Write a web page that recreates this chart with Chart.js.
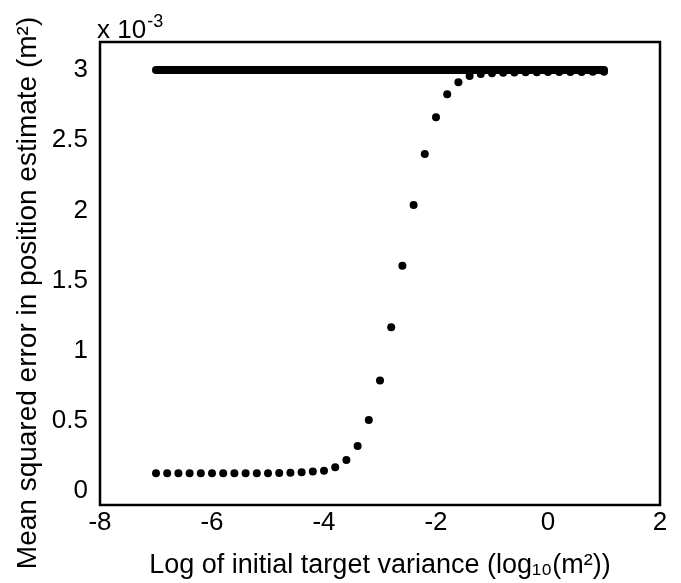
<!DOCTYPE html>
<html>
<head>
<meta charset="utf-8">
<script src="https://cdn.jsdelivr.net/npm/chart.js@4.4.1/dist/chart.umd.min.js"></script>
<style>
  html, body { margin: 0; padding: 0; background: #ffffff; }
  #wrap { width: 681px; height: 583px; }
</style>
</head>
<body>
<div id="wrap"><canvas id="c" width="681" height="583"></canvas></div>
<script>
// ---- data (y values in units of 10^-3 m^2) ----
const xValues = [-7, -6.8, -6.6, -6.4, -6.2, -6, -5.8, -5.6, -5.4, -5.2,
                 -5, -4.8, -4.6, -4.4, -4.2, -4, -3.8, -3.6, -3.4, -3.2,
                 -3, -2.8, -2.6, -2.4, -2.2, -2, -1.8, -1.6, -1.4, -1.2,
                 -1, -0.8, -0.6, -0.4, -0.2, 0, 0.2, 0.4, 0.6, 0.8, 1];
const mseValues = [0.126, 0.126, 0.126, 0.126, 0.126, 0.126, 0.126, 0.126, 0.126, 0.126,
                   0.127, 0.128, 0.13, 0.133, 0.138, 0.145, 0.169, 0.221, 0.321, 0.506,
                   0.788, 1.167, 1.606, 2.038, 2.402, 2.664, 2.827, 2.913, 2.958, 2.972,
                   2.977, 2.981, 2.983, 2.984, 2.985, 2.986, 2.986, 2.987, 2.987, 2.988, 2.988];
const refLineX = [-7, 1];
const refLineY = [3, 3];
const xTicks = [-8, -6, -4, -2, 0, 2];
const xTickLabels = ['-8', '-6', '-4', '-2', '0', '2'];
const yTicks = [0, 0.5, 1, 1.5, 2, 2.5, 3];
const yTickLabels = ['0', '0.5', '1', '1.5', '2', '2.5', '3'];
const xTitle = 'Log of initial target variance (log\u2081\u2080(m\u00B2))';
const yTitle = 'Mean squared error in position estimate (m\u00B2)';
const expBase = 'x 10';
const expPower = '-3';

const FONT = '"Liberation Sans", Arial, sans-serif';

const frameAndExponent = {
  id: 'frameAndExponent',
  afterDraw(chart) {
    const ctx = chart.ctx;
    const a = chart.chartArea;
    ctx.save();
    ctx.strokeStyle = '#000';
    ctx.lineWidth = 2.5;
    ctx.strokeRect(a.left, a.top, a.right - a.left, a.bottom - a.top);
    ctx.fillStyle = '#000';
    ctx.textBaseline = 'alphabetic';
    ctx.textAlign = 'left';
    ctx.font = '26px ' + FONT;
    ctx.fillText(expBase, a.left - 3, 38);
    const w = ctx.measureText(expBase).width;
    ctx.font = '18px ' + FONT;
    ctx.fillText(expPower, a.left - 3 + w + 1, 27);
    ctx.restore();
  }
};

new Chart(document.getElementById('c'), {
  type: 'scatter',
  data: {
    datasets: [
      {
        label: 'reference',
        data: refLineX.map((x, i) => ({ x: x, y: refLineY[i] })),
        showLine: true,
        borderColor: '#000',
        backgroundColor: '#000',
        borderWidth: 8,
        borderCapStyle: 'round',
        pointRadius: 0,
        order: 2
      },
      {
        label: 'mse',
        data: xValues.map((x, i) => ({ x: x, y: mseValues[i] })),
        showLine: false,
        pointRadius: 4,
        pointBackgroundColor: '#000',
        pointBorderWidth: 0,
        order: 1
      }
    ]
  },
  options: {
    responsive: false,
    animation: false,
    events: [],
    layout: { padding: { top: 42, right: 21, left: 0, bottom: 0 } },
    plugins: { legend: { display: false }, tooltip: { enabled: false }, title: { display: false } },
    scales: {
      x: {
        type: 'linear',
        min: -8, max: 2,
        grid: { display: false, drawTicks: false },
        border: { display: false },
        afterFit(scale) { scale.height = 78; },
        afterBuildTicks(scale) { scale.ticks = xTicks.map(v => ({ value: v })); },
        ticks: {
          padding: 2,
          color: '#000',
          font: { family: FONT, size: 26 },
          maxRotation: 0,
          autoSkip: false,
          callback(v) { const i = xTicks.indexOf(v); return i >= 0 ? xTickLabels[i] : ''; }
        },
        title: {
          display: true, text: xTitle, color: '#000',
          font: { family: FONT, size: 27 },
          padding: { top: 0, bottom: 1 }
        }
      },
      y: {
        type: 'linear',
        min: -0.1, max: 3.2,
        grid: { display: false, drawTicks: false },
        border: { display: false },
        afterFit(scale) { scale.width = 100; },
        afterBuildTicks(scale) { scale.ticks = yTicks.map(v => ({ value: v })); },
        ticks: {
          padding: 12,
          color: '#000',
          font: { family: FONT, size: 26 },
          autoSkip: false,
          callback(v) { const i = yTicks.indexOf(v); return i >= 0 ? yTickLabels[i] : ''; }
        },
        title: {
          display: true, text: yTitle + '     ', color: '#000',
          font: { family: FONT, size: 28 },
          padding: { top: 11, bottom: 0 }
        }
      }
    }
  },
  plugins: [frameAndExponent]
});
</script>
</body>
</html>
